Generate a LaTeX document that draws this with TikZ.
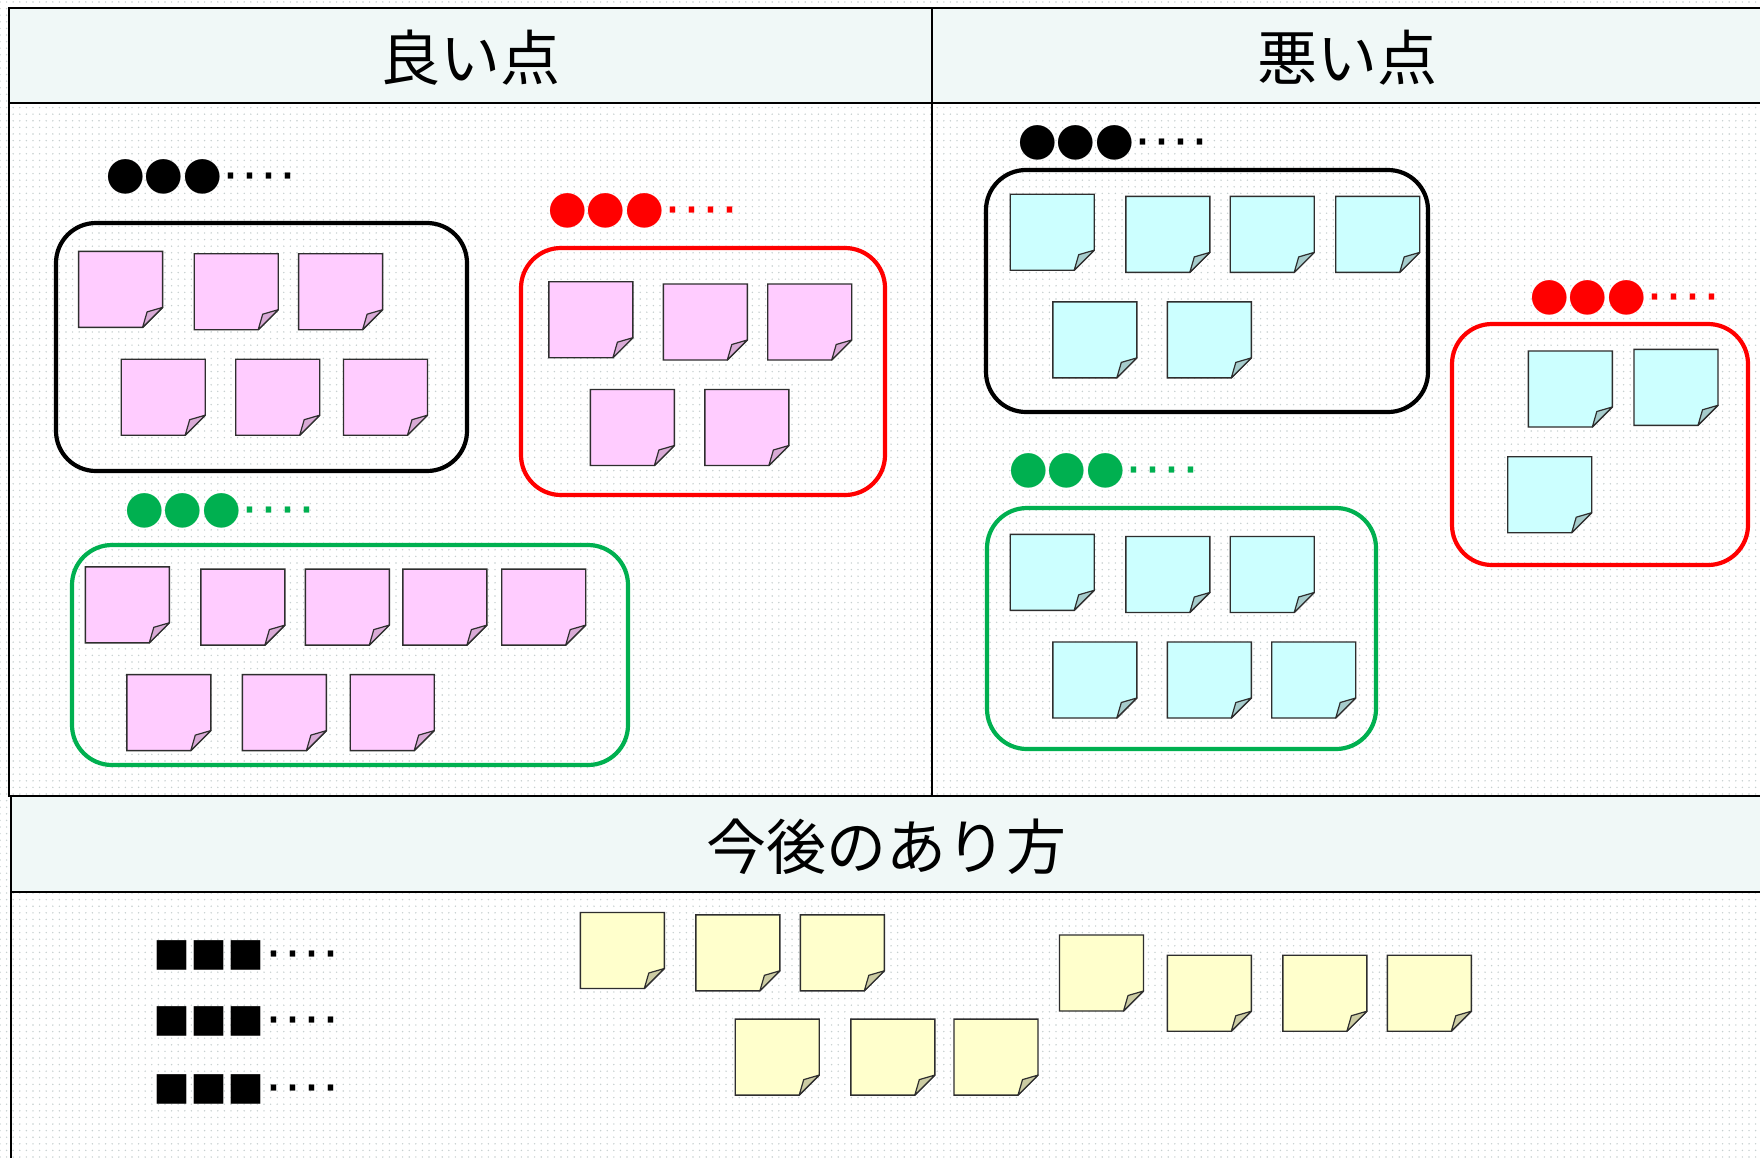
\documentclass[tikz,border=0pt]{standalone}
\usepackage{fontspec}
\newfontfamily\jp{Noto Sans CJK JP}
\newfontfamily\dotf{Liberation Sans}
\usetikzlibrary{patterns.meta}
\definecolor{hdr}{HTML}{F0F8F7}
\definecolor{dotc}{HTML}{C6CFCF}
\definecolor{pinkf}{HTML}{FFCCFF}
\definecolor{pinkd}{HTML}{D9AAD6}
\definecolor{cyanf}{HTML}{CCFFFF}
\definecolor{cyand}{HTML}{A6CCCC}
\definecolor{yelf}{HTML}{FFFFCC}
\definecolor{yeld}{HTML}{CCCCA3}
\definecolor{notebd}{HTML}{2E2E2E}
\definecolor{grn}{HTML}{00B050}
\definecolor{rd}{HTML}{FF0000}
\newcommand\stickybody[2]{%
  \filldraw[draw=notebd,line width=1.4pt,fill=#1,line join=miter] (0,0) -- (84,0) -- (84,56) -- (64,76) -- (0,76) -- cycle;
  \filldraw[draw=notebd,line width=1.2pt,fill=#2,line join=round] (64,76) -- (68.5,60.5) -- (84,56) -- cycle;
}
\newcommand\traildots{{\dotf\fontsize{57}{60}\selectfont ····}}
\tikzset{
  pinknote/.pic={\stickybody{pinkf}{pinkd}},
  cyannote/.pic={\stickybody{cyanf}{cyand}},
  yelnote/.pic={\stickybody{yelf}{yeld}},
  hdrcell/.style={draw=black,line width=2.6pt,fill=hdr,inner sep=0pt,font=\jp\fontsize{60}{70}\selectfont},
  bodycell/.style={draw=black,line width=2.6pt,inner sep=0pt},
  grpbox/.style={line width=4.2pt,rounded corners=40pt,inner sep=0pt},
  lbl/.style={anchor=west,inner sep=0pt,font=\jp\fontsize{38.5}{40}\selectfont},
  sqlbl/.style={anchor=west,inner sep=0pt,font=\jp\fontsize{37}{40}\selectfont}
}
\begin{document}
\begin{tikzpicture}[x=1pt,y=-1pt]
\useasboundingbox (0,0) rectangle (1760,1157);
\clip (0,0) rectangle (1760,1157);
\fill[white] (0,0) rectangle (1760,1157);
\fill[pattern={Dots[distance=6.6pt,radius=0.8pt]},pattern color=dotc] (0,0) rectangle (1760,1157);

% upper table
\node[bodycell,minimum width=923,minimum height=693] (bodyL) at (470.5,449.5) {};
\node[bodycell,minimum width=840,minimum height=693] (bodyR) at (1352,449.5) {};
\node[hdrcell,minimum width=923,minimum height=95] (hL) at (470.5,55.5) {};
\node[hdrcell,minimum width=840,minimum height=95] (hR) at (1352,55.5) {};
\node[font=\jp\fontsize{60}{70}\selectfont,inner sep=0pt] (tL) at (470.5,58) {良い点};
\node[font=\jp\fontsize{60}{70}\selectfont,inner sep=0pt] (tR) at (1347,58) {悪い点};

% lower table
\node[bodycell,minimum width=1760,minimum height=280] (bodyB) at (891,1032) {};
\node[hdrcell,minimum width=1760,minimum height=96] (hB) at (891,844) {};
\node[font=\jp\fontsize{60}{70}\selectfont,inner sep=0pt] (tB) at (886,847) {今後のあり方};

% ---- left panel groups
\node[grpbox,draw=black,minimum width=411,minimum height=248] (gLk) at (261.5,347) {};
\node[grpbox,draw=rd,minimum width=364,minimum height=247] (gLr) at (703,371.5) {};
\node[grpbox,draw=grn,minimum width=556,minimum height=220] (gLg) at (350,655) {};
\node[lbl,text=black] (lLk) at (106,177) {●●●\traildots};
\node[lbl,text=rd] (lLr) at (548,210.5) {●●●\traildots};
\node[lbl,text=grn] (lLg) at (125,511) {●●●\traildots};

\pic (pk1) at (78.6,251.4) {pinknote};
\pic (pk2) at (194.2,253.7) {pinknote};
\pic (pk3) at (298.6,253.7) {pinknote};
\pic (pk4) at (121.2,359.2) {pinknote};
\pic (pk5) at (235.7,359.2) {pinknote};
\pic (pk6) at (343.5,359.2) {pinknote};

\pic (pr1) at (548.9,281.7) {pinknote};
\pic (pr2) at (663.3,284) {pinknote};
\pic (pr3) at (767.7,284) {pinknote};
\pic (pr4) at (590.4,389.5) {pinknote};
\pic (pr5) at (704.9,389.5) {pinknote};

\pic (pg1) at (85.3,566.8) {pinknote};
\pic (pg2) at (200.9,569.1) {pinknote};
\pic (pg3) at (305.3,569.1) {pinknote};
\pic (pg4) at (402.9,569.1) {pinknote};
\pic (pg5) at (501.7,569.1) {pinknote};
\pic (pg6) at (126.8,674.6) {pinknote};
\pic (pg7) at (242.4,674.6) {pinknote};
\pic (pg8) at (350.2,674.6) {pinknote};

% ---- right panel groups
\node[grpbox,draw=black,minimum width=442,minimum height=242] (gRk) at (1207,291) {};
\node[grpbox,draw=rd,minimum width=296,minimum height=241] (gRr) at (1600,444.5) {};
\node[grpbox,draw=grn,minimum width=389,minimum height=241] (gRg) at (1181.5,628.5) {};
\node[lbl,text=black] (lRk) at (1018,143.3) {●●●\traildots};
\node[lbl,text=rd] (lRr) at (1530,298) {●●●\traildots};
\node[lbl,text=grn] (lRg) at (1009,471) {●●●\traildots};

\pic (ck1) at (1010.2,194.2) {cyannote};
\pic (ck2) at (1125.8,196.4) {cyannote};
\pic (ck3) at (1230.2,196.4) {cyannote};
\pic (ck4) at (1335.7,196.4) {cyannote};
\pic (ck5) at (1052.8,301.9) {cyannote};
\pic (ck6) at (1167.3,301.9) {cyannote};

\pic (cr1) at (1528.3,351) {cyannote};
\pic (cr2) at (1634,349.3) {cyannote};
\pic (cr3) at (1507.7,456.7) {cyannote};

\pic (cg1) at (1010.2,534.3) {cyannote};
\pic (cg2) at (1125.8,536.5) {cyannote};
\pic (cg3) at (1230.2,536.5) {cyannote};
\pic (cg4) at (1052.8,642) {cyannote};
\pic (cg5) at (1167.3,642) {cyannote};
\pic (cg6) at (1271.7,642) {cyannote};

% ---- lower section
\node[sqlbl,text=black] (s1) at (153,955) {■■■\traildots};
\node[sqlbl,text=black] (s2) at (153,1021.5) {■■■\traildots};
\node[sqlbl,text=black] (s3) at (153,1089) {■■■\traildots};

\pic (y1) at (580.3,912.5) {yelnote};
\pic (y2) at (695.9,914.8) {yelnote};
\pic (y3) at (800.3,914.8) {yelnote};
\pic (y4) at (735.2,1019.1) {yelnote};
\pic (y5) at (850.8,1019.1) {yelnote};
\pic (y6) at (954.0,1019.1) {yelnote};
\pic (y7) at (1059.5,935) {yelnote};
\pic (y8) at (1167.3,955.2) {yelnote};
\pic (y9) at (1282.9,955.2) {yelnote};
\pic (y10) at (1387.3,955.2) {yelnote};
\end{tikzpicture}
\end{document}
